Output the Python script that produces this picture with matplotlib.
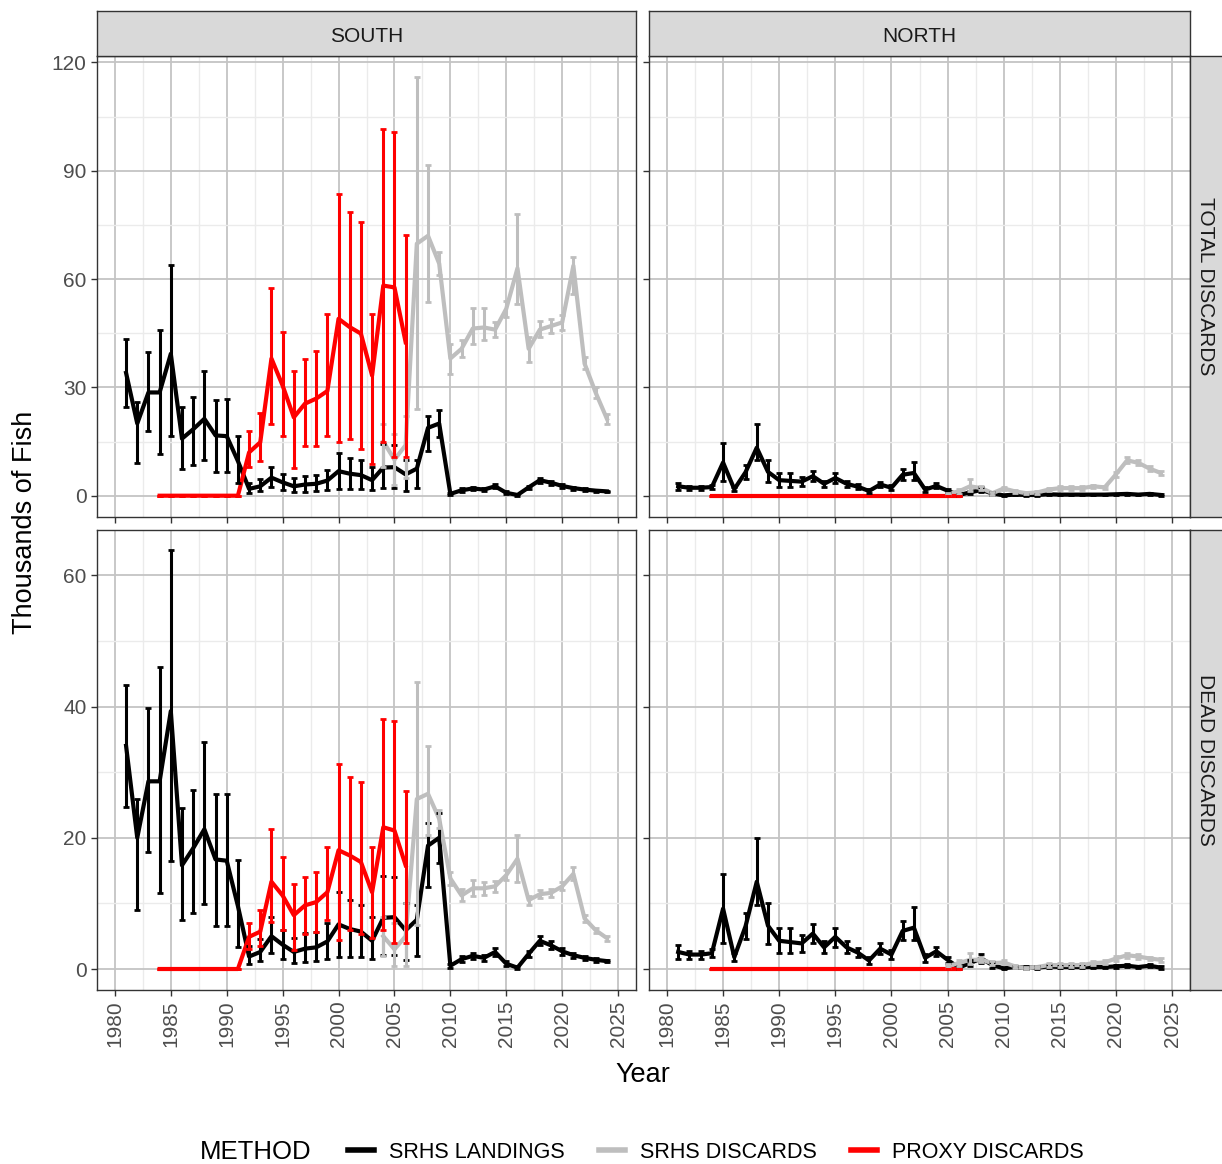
import numpy as np
import matplotlib.pyplot as plt
from matplotlib.lines import Line2D

plt.rcParams['font.family'] = ['Liberation Sans', 'DejaVu Sans']

# ---------------- data (thousands of fish) ----------------
yr_land = np.arange(1981, 2025)
yr_disc_s = np.arange(2004, 2025)
yr_disc_n = np.arange(2005, 2025)
yr_proxy = np.arange(1984, 2007)

# SRHS landings (same in both rows)
land_s = [34, 20, 28.6, 28.6, 39.3, 15.8, 18.4, 21.3, 16.7, 16.5, 9.6,
          1.9, 2.6, 5.0, 3.7, 2.6, 3.1, 3.3, 4.2, 6.8, 6.1,
          5.7, 4.3, 7.8, 7.9, 5.9, 7.5, 18.8, 20.0, 0.5, 1.5,
          2.0, 1.7, 2.6, 0.8, 0.2, 2.3, 4.3, 3.6, 2.7, 2.1, 1.7, 1.4, 1.2]
land_s_lo = [24.7, 9, 17.9, 11.6, 16.4, 7.5, 8.5, 9.9, 6.6, 6.6, 3.4,
             0.8, 1.2, 2.4, 1.5, 0.9, 1.1, 1.2, 1.6, 1.8, 1.8,
             1.8, 1.5, 2.1, 2.1, 1.3, 2.0, 12.5, 16.2, 0.2, 1.0,
             1.5, 1.2, 2.0, 0.4, 0.0, 1.8, 3.6, 3.0, 2.2, 1.7, 1.4, 1.1, 1.0]
land_s_hi = [43.3, 25.9, 39.8, 46, 63.8, 24.5, 27.3, 34.6, 26.6, 26.7, 16.6,
             3.5, 4.5, 8.0, 6.0, 4.8, 5.5, 5.6, 7.0, 11.8, 10.5,
             9.8, 8.0, 14.2, 14.0, 10.0, 9.8, 22.2, 23.7, 0.8, 2.0,
             2.5, 2.2, 3.2, 1.2, 0.4, 2.8, 5.0, 4.2, 3.2, 2.5, 2.0, 1.7, 1.4]

land_n = [2.6, 2.2, 2.2, 2.4, 9.2, 1.8, 6.5, 13.3, 6.6, 4.3,
          4.1, 3.9, 5.4, 3.3, 4.9, 3.3, 2.5, 1.3, 3.1, 2.2,
          5.8, 6.3, 1.7, 2.7, 1.4, 0.2, 0.9, 1.6, 0.6, 0.1,
          0.3, 0.2, 0.2, 0.4, 0.3, 0.3, 0.3, 0.3, 0.3, 0.4, 0.5, 0.3, 0.5, 0.2]
land_n_lo = [1.6, 1.6, 1.6, 1.8, 4.0, 1.2, 4.5, 9.8, 3.8, 2.4,
             2.4, 2.6, 4.0, 2.4, 3.4, 2.4, 1.8, 0.8, 2.3, 1.5,
             4.4, 4.4, 1.1, 2.0, 0.9, 0.0, 0.4, 0.9, 0.2, 0.0,
             0.1, 0.0, 0.0, 0.2, 0.1, 0.1, 0.1, 0.1, 0.1, 0.2, 0.3, 0.1, 0.3, 0.0]
land_n_hi = [3.6, 2.8, 2.8, 3.0, 14.5, 2.4, 8.5, 20.0, 10.0, 6.3,
             6.2, 5.2, 6.8, 4.2, 6.3, 4.2, 3.2, 1.8, 3.9, 2.9,
             7.3, 9.4, 2.3, 3.4, 1.9, 0.4, 1.4, 2.3, 1.0, 0.2,
             0.5, 0.4, 0.4, 0.6, 0.5, 0.5, 0.5, 0.5, 0.5, 0.6, 0.7, 0.5, 0.7, 0.4]

# SRHS discards
disc_tot_s = [15, 10, 14, 69.8, 72, 64.3, 38, 40.7, 46.3, 46.6, 46,
              51.8, 63, 40.7, 46, 47, 48, 63.7, 36.6, 28.5, 21.3]
disc_tot_s_lo = [8, 3, 5, 24, 53.6, 61, 33.8, 38.5, 42, 43, 44,
                 49.5, 53, 37, 44, 45, 46, 56, 35, 27, 20]
disc_tot_s_hi = [20, 17, 22, 116, 91.5, 67.5, 42, 43, 52, 52, 48,
                 54, 78, 44, 48.5, 49, 50, 66, 38.5, 30, 22.5]

disc_dead_s = [5, 3, 5, 25.9, 26.7, 22.9, 13.8, 11.2, 12.3, 12.3, 12.6,
               14.3, 16.8, 10.5, 11.4, 11.6, 12.6, 14.5, 7.7, 5.9, 4.7]
disc_dead_s_lo = [2, 0.5, 0.5, 6.7, 20.4, 21.5, 12.8, 10.4, 11.2, 11.3, 11.8,
                  13.5, 13.2, 9.8, 10.8, 11, 12, 13.5, 7.2, 5.5, 4.3]
disc_dead_s_hi = [8, 7, 10, 43.7, 34, 24.3, 14.8, 12.2, 13.5, 13.3, 13.4,
                  15.1, 20.4, 11.2, 12, 12.2, 13.2, 15.5, 8.2, 6.3, 5.1]

disc_tot_n = [0.5, 1.2, 2.6, 2.1, 0.7, 2.0, 1.2, 0.7, 0.9, 1.7,
              2.1, 2.1, 2.1, 2.6, 2.3, 5.9, 9.8, 9.1, 7.5, 6.3]
disc_tot_n_lo = [0.2, 0.6, 1.2, 1.5, 0.3, 1.5, 0.8, 0.4, 0.5, 1.2,
                 1.6, 1.6, 1.6, 2.1, 1.8, 5.2, 9.0, 8.4, 6.9, 5.8]
disc_tot_n_hi = [0.8, 1.8, 4.5, 2.7, 1.1, 2.5, 1.6, 1.0, 1.3, 2.2,
                 2.6, 2.6, 2.6, 3.1, 2.8, 6.6, 10.6, 9.8, 8.1, 6.8]

disc_dead_n = [0.4, 0.9, 1.4, 1.4, 0.9, 1.0, 0.4, 0.1, 0.3, 0.6,
               0.6, 0.6, 0.6, 0.9, 1.0, 1.6, 2.1, 1.9, 1.6, 1.4]
disc_dead_n_lo = [0.1, 0.5, 0.8, 1.0, 0.6, 0.7, 0.2, 0.0, 0.1, 0.3,
                  0.3, 0.3, 0.3, 0.6, 0.7, 1.2, 1.7, 1.5, 1.3, 1.1]
disc_dead_n_hi = [0.7, 1.3, 2.4, 1.8, 1.2, 1.3, 0.6, 0.3, 0.5, 0.9,
                  0.9, 0.9, 0.9, 1.2, 1.3, 2.0, 2.5, 2.3, 1.9, 1.7]

# Proxy discards
prox_tot_s = [0, 0, 0, 0, 0, 0, 0, 0, 12, 14.8, 38, 30.5, 21.7, 25.5,
              26.9, 29, 49, 46.7, 44.9, 33.3, 58.2, 57.7, 42.5]
prox_tot_s_lo = [0, 0, 0, 0, 0, 0, 0, 0, 8, 9.7, 20, 16.6, 7.8, 13.9,
                 13.9, 16.6, 14.8, 15.8, 13, 8.9, 14.8, 10.6, 10.6]
prox_tot_s_hi = [0, 0, 0, 0, 0, 0, 0, 0, 18, 23, 57.4, 45.3, 34.6, 38,
                 40.2, 50.4, 83.7, 78.5, 75.8, 50.4, 101.7, 100.7, 72.3]

prox_dead_s = [0, 0, 0, 0, 0, 0, 0, 0, 4.9, 5.7, 13.3, 11.2, 8.2, 9.7,
               10.2, 11.7, 18.1, 17.3, 16.3, 11.7, 21.6, 21.1, 15.8]
prox_dead_s_lo = [0, 0, 0, 0, 0, 0, 0, 0, 3, 3.5, 7.2, 5.9, 2.9, 5.4,
                  5.7, 7.4, 4.4, 5.9, 5.4, 4.7, 5.9, 3.9, 3.9]
prox_dead_s_hi = [0, 0, 0, 0, 0, 0, 0, 0, 7, 9, 21.4, 17.1, 13, 14,
                  14.8, 18.6, 31.3, 29.2, 28.5, 18.6, 38.1, 37.8, 27.2]

prox_n = [0, 0, 0, 0, 0, 0, 0, 0, 0, 0, 0, 0, 0, 0, 0, 0, 0, 0, 0, 0, 0, 0, 0]

methods = ["SRHS LANDINGS", "SRHS DISCARDS", "PROXY DISCARDS"]
colors = {"SRHS LANDINGS": "#000000", "SRHS DISCARDS": "#BEBEBE", "PROXY DISCARDS": "#FF0000"}

regions = ["SOUTH", "NORTH"]
rows = ["TOTAL DISCARDS", "DEAD DISCARDS"]

# panel contents: (years, value, lo, hi) for each method
panels = {
    ("TOTAL DISCARDS", "SOUTH"): [(yr_land, land_s, land_s_lo, land_s_hi),
                                  (yr_disc_s, disc_tot_s, disc_tot_s_lo, disc_tot_s_hi),
                                  (yr_proxy, prox_tot_s, prox_tot_s_lo, prox_tot_s_hi)],
    ("TOTAL DISCARDS", "NORTH"): [(yr_land, land_n, land_n_lo, land_n_hi),
                                  (yr_disc_n, disc_tot_n, disc_tot_n_lo, disc_tot_n_hi),
                                  (yr_proxy, prox_n, prox_n, prox_n)],
    ("DEAD DISCARDS", "SOUTH"): [(yr_land, land_s, land_s_lo, land_s_hi),
                                 (yr_disc_s, disc_dead_s, disc_dead_s_lo, disc_dead_s_hi),
                                 (yr_proxy, prox_dead_s, prox_dead_s_lo, prox_dead_s_hi)],
    ("DEAD DISCARDS", "NORTH"): [(yr_land, land_n, land_n_lo, land_n_hi),
                                 (yr_disc_n, disc_dead_n, disc_dead_n_lo, disc_dead_n_hi),
                                 (yr_proxy, prox_n, prox_n, prox_n)],
}
ylims = {"TOTAL DISCARDS": (-5.9, 121.8), "DEAD DISCARDS": (-3.2, 66.9)}
yticks = {"TOTAL DISCARDS": [0, 30, 60, 90, 120], "DEAD DISCARDS": [0, 20, 40, 60]}

# ---------------- layout ----------------
W, H = 1222, 1164
fig = plt.figure(figsize=(W / 100, H / 100), dpi=100)

def fbox(x0, y0, x1, y1):
    # pixel box (top-left origin) -> figure fraction
    return [x0 / W, 1 - y1 / H, (x1 - x0) / W, (y1 - y0) / H]

col_px = {"SOUTH": (97, 636), "NORTH": (649, 1190)}
row_px = {"TOTAL DISCARDS": (56, 517), "DEAD DISCARDS": (530, 990)}

tick_col = "#4D4D4D"
edge_col = "#333333"

for r in rows:
    for c in regions:
        x0, x1 = col_px[c]
        y0, y1 = row_px[r]
        ax = fig.add_axes(fbox(x0, y0, x1, y1))
        for (yrs, v, lo, hi), m in zip(panels[(r, c)], methods):
            ax.plot(yrs, v, color=colors[m], lw=3.0, solid_joinstyle='round', zorder=3)
        for (yrs, v, lo, hi), m in zip(panels[(r, c)], methods):
            v = np.array(v, float)
            err = [v - np.array(lo, float), np.array(hi, float) - v]
            ax.errorbar(yrs, v, yerr=err, fmt='none', ecolor=colors[m],
                        elinewidth=2.2, capsize=2.5, capthick=2.0, zorder=4)
        ax.set_xlim(1978.4, 2026.6)
        ax.set_ylim(*ylims[r])
        ax.set_xticks(np.arange(1980, 2026, 5))
        ax.set_xticks(np.arange(1982.5, 2026, 5), minor=True)
        yt = yticks[r]
        ax.set_yticks(yt)
        ax.set_yticks(np.array(yt[:-1]) + (yt[1] - yt[0]) / 2, minor=True)
        ax.grid(which='major', color='#C4C4C4', lw=1.3, zorder=0)
        ax.grid(which='minor', color='#EBEBEB', lw=1.0, zorder=0)
        ax.set_axisbelow(True)
        ax.tick_params(which='minor', length=0)
        ax.tick_params(which='major', length=4, width=1, color=edge_col,
                       labelsize=15, labelcolor=tick_col)
        ax.tick_params(axis='x', labelrotation=90)
        if c != "SOUTH":
            ax.tick_params(axis='y', labelleft=False)
        if r != "DEAD DISCARDS":
            ax.tick_params(axis='x', labelbottom=False)
        for s in ax.spines.values():
            s.set_color(edge_col)
            s.set_linewidth(1.0)

# strips
for c in regions:
    x0, x1 = col_px[c]
    sax = fig.add_axes(fbox(x0, 11, x1, 56))
    sax.set_facecolor('#D9D9D9')
    sax.set_xticks([]); sax.set_yticks([])
    for s in sax.spines.values():
        s.set_color(edge_col); s.set_linewidth(1.0)
    sax.text(0.5, 0.44, c, ha='center', va='center', fontsize=15, color='#1A1A1A',
             transform=sax.transAxes)
for r in rows:
    y0, y1 = row_px[r]
    sax = fig.add_axes(fbox(1190, y0, 1232, y1))
    sax.set_facecolor('#D9D9D9')
    sax.set_xticks([]); sax.set_yticks([])
    for s in sax.spines.values():
        s.set_color(edge_col); s.set_linewidth(1.0)
    sax.text(16 / 42, 0.5, r, ha='center', va='center', fontsize=15, color='#1A1A1A',
             rotation=-90, transform=sax.transAxes)

# axis titles
fig.text(643 / W, 1 - 1075 / H, "Year", ha='center', va='center', fontsize=19.5)
fig.text(25 / W, 1 - 522 / H, "Thousands of Fish", ha='center', va='center',
         fontsize=19.5, rotation=90)

# legend
handles = [Line2D([], [], color=colors[m], lw=4) for m in methods]
fig.legend(handles, methods, loc='center', bbox_to_anchor=(716 / W, 1 - 1152 / H),
           ncol=3, frameon=False, fontsize=15.5, handlelength=1.2,
           handletextpad=0.7, columnspacing=1.6, borderpad=0, borderaxespad=0)
fig.text(200 / W, 1 - 1152 / H, "METHOD", ha='left', va='center', fontsize=18.5)

fig.savefig("out.png", dpi=100)
